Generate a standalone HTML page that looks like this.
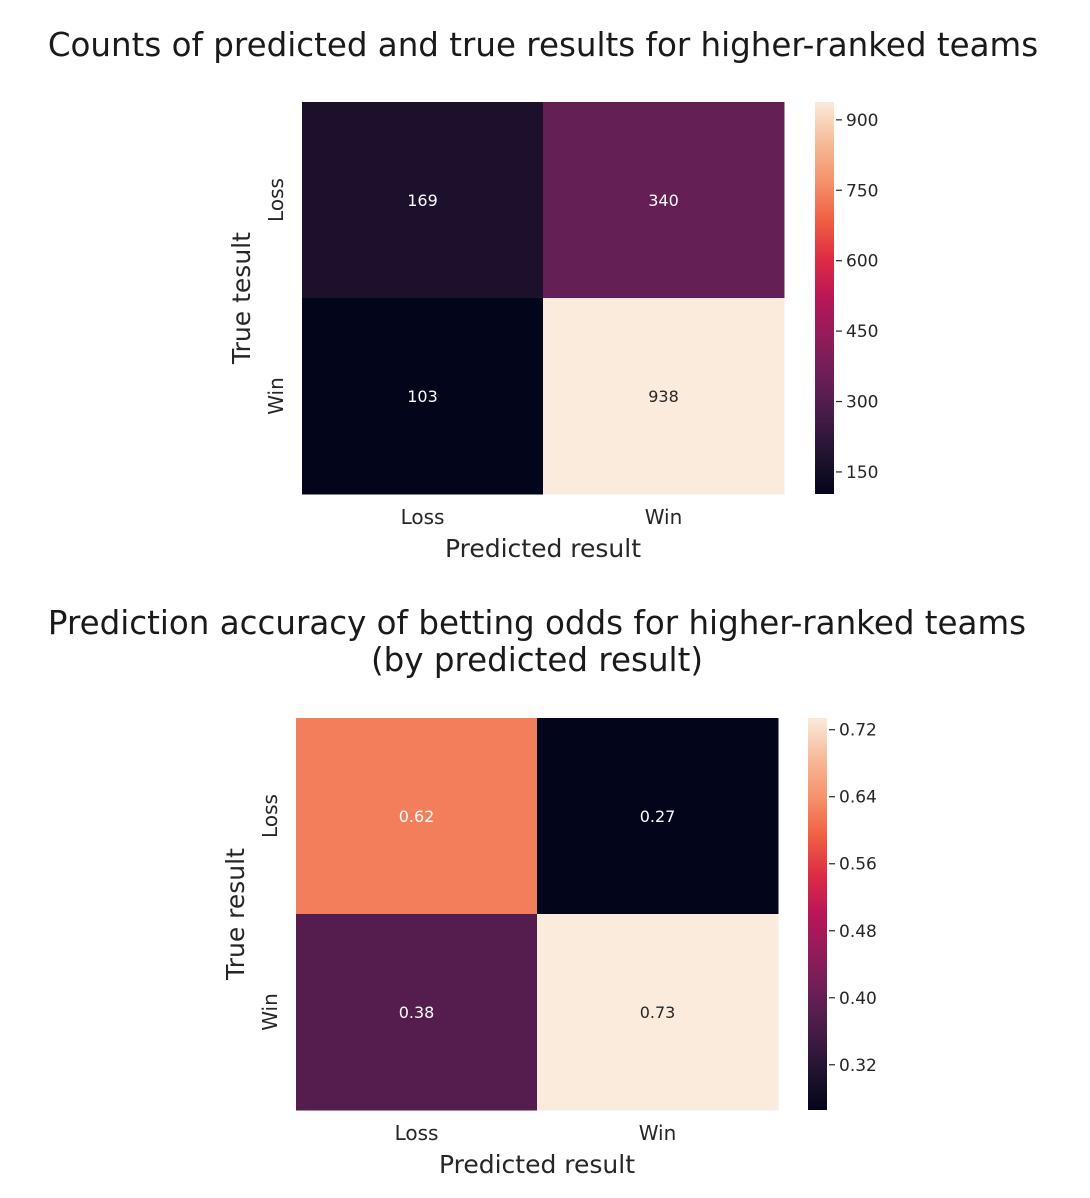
<!DOCTYPE html>
<html><head><meta charset="utf-8"><style>
body{margin:0;background:#fff;width:1090px;height:1194px;overflow:hidden;font-family:"DejaVu Sans","Liberation Sans",sans-serif}
</style></head><body>
<svg id="s" width="1090" height="1194" xmlns="http://www.w3.org/2000/svg" font-family="DejaVu Sans, Liberation Sans, sans-serif">
<defs>
<linearGradient id="rocket" x1="0" y1="1" x2="0" y2="0">
<stop offset="0" stop-color="#03051a"/><stop offset="0.1" stop-color="#221331"/><stop offset="0.2" stop-color="#451c47"/><stop offset="0.3" stop-color="#6a1f56"/><stop offset="0.4" stop-color="#921c5b"/><stop offset="0.5" stop-color="#b91657"/><stop offset="0.6" stop-color="#dd2c45"/><stop offset="0.7" stop-color="#f06043"/><stop offset="0.8" stop-color="#f5936c"/><stop offset="0.9" stop-color="#f6bc9a"/><stop offset="1" stop-color="#faebdd"/>
</linearGradient></defs>
</svg>
<script>
const categories = ["Loss","Win"];
const countValues = [[169,340],[103,938]];
const countTicks = [150,300,450,600,750,900];
const accValues = [[0.621,0.266],[0.379,0.734]];
const accTicks = [0.32,0.40,0.48,0.56,0.64,0.72];

const NS="http://www.w3.org/2000/svg";
const svg=document.getElementById('s');
const stops=[[3,5,26],[34,19,49],[69,28,71],[106,31,86],[146,28,91],[185,22,87],[221,44,69],[240,96,67],[245,147,108],[246,188,154],[250,235,221]];
function rocket(t){t=Math.max(0,Math.min(1,t));const p=t*10,i=Math.min(9,Math.floor(p)),f=p-i;const a=stops[i],b=stops[i+1];return 'rgb('+a.map((v,k)=>Math.round(v+(b[k]-v)*f)).join(',')+')';}
function el(tag,attrs,text){const e=document.createElementNS(NS,tag);for(const k in attrs)e.setAttribute(k,attrs[k]);if(text!==undefined)e.textContent=text;svg.appendChild(e);return e;}

function heatmap(cfg,values,ticks,prefix){
  const flat=values.flat(),vmin=Math.min(...flat),vmax=Math.max(...flat);
  const cw=cfg.w/categories.length,ch=cfg.h/categories.length;
  const xS=i=>cfg.x+i*cw, yS=i=>cfg.y+i*ch;
  const cbY=v=>cfg.y+cfg.h-(v-vmin)/(vmax-vmin)*cfg.h;
  values.forEach((row,r)=>row.forEach((v,c)=>{
    const t=(v-vmin)/(vmax-vmin);
    const rc=el('rect',{x:xS(c),y:yS(r),width:cw+0.5,height:ch+0.5,fill:rocket(t)});
    
    
    const tx=el('text',{x:xS(c)+cw/2,y:yS(r)+ch/2+6,'text-anchor':'middle','font-size':16,fill:t>0.85?'#262626':'#ffffff'},cfg.fmt(v));
    
    
  }));
  categories.forEach((c,i)=>{
    const xt=el('text',{x:xS(i)+cw/2,y:cfg.y+cfg.h+30,'text-anchor':'middle','font-size':20,fill:'#262626'},c);
    
    
    const cy=yS(i)+ch/2,cx=cfg.x-19;
    const yt=el('text',{x:cx,y:cy,'text-anchor':'middle','font-size':20,fill:'#262626',transform:'rotate(-90 '+cx+' '+cy+')'},c);
    
    
  });
  const xl=el('text',{x:cfg.x+cfg.w/2,y:cfg.y+cfg.h+63,'text-anchor':'middle','font-size':25,fill:'#262626'},'Predicted result');
  
  
  const yx=cfg.x-52,yy=cfg.y+cfg.h/2;
  const yl=el('text',{x:yx,y:yy,'text-anchor':'middle','font-size':25,fill:'#262626',transform:'rotate(-90 '+yx+' '+yy+')'},cfg.ylab);
  
  
  const cb=el('rect',{x:cfg.cbx,y:cfg.y,width:19,height:cfg.h,fill:'url(#rocket)'});
  
  
  ticks.forEach(t=>{
    const y=cbY(t);
    el('line',{x1:cfg.cbx+21,x2:cfg.cbx+27,y1:y,y2:y,stroke:'#262626','stroke-width':1.2});
    const tl=el('text',{x:cfg.cbx+31,y:y+6,'font-size':17,fill:'#262626'},cfg.tfmt(t));
    
    
  });
}
const t1=el('text',{x:543,y:56,'text-anchor':'middle','font-size':32.5,fill:'#1a1a1a'},'Counts of predicted and true results for higher-ranked teams');


const t2=el('text',{x:537,y:634,'text-anchor':'middle','font-size':32.5,fill:'#1a1a1a'},'Prediction accuracy of betting odds for higher-ranked teams');


const t3=el('text',{x:537,y:671,'text-anchor':'middle','font-size':32.5,fill:'#1a1a1a'},'(by predicted result)');


heatmap({x:302,y:102,w:482,h:392,cbx:815,ylab:'True tesult',fmt:v=>String(v),tfmt:t=>String(t)},countValues,countTicks,'counts');
heatmap({x:296,y:718,w:482,h:392,cbx:808,ylab:'True result',fmt:v=>v.toFixed(2),tfmt:t=>t.toFixed(2)},accValues,accTicks,'accuracy');
</script>
</body></html>
